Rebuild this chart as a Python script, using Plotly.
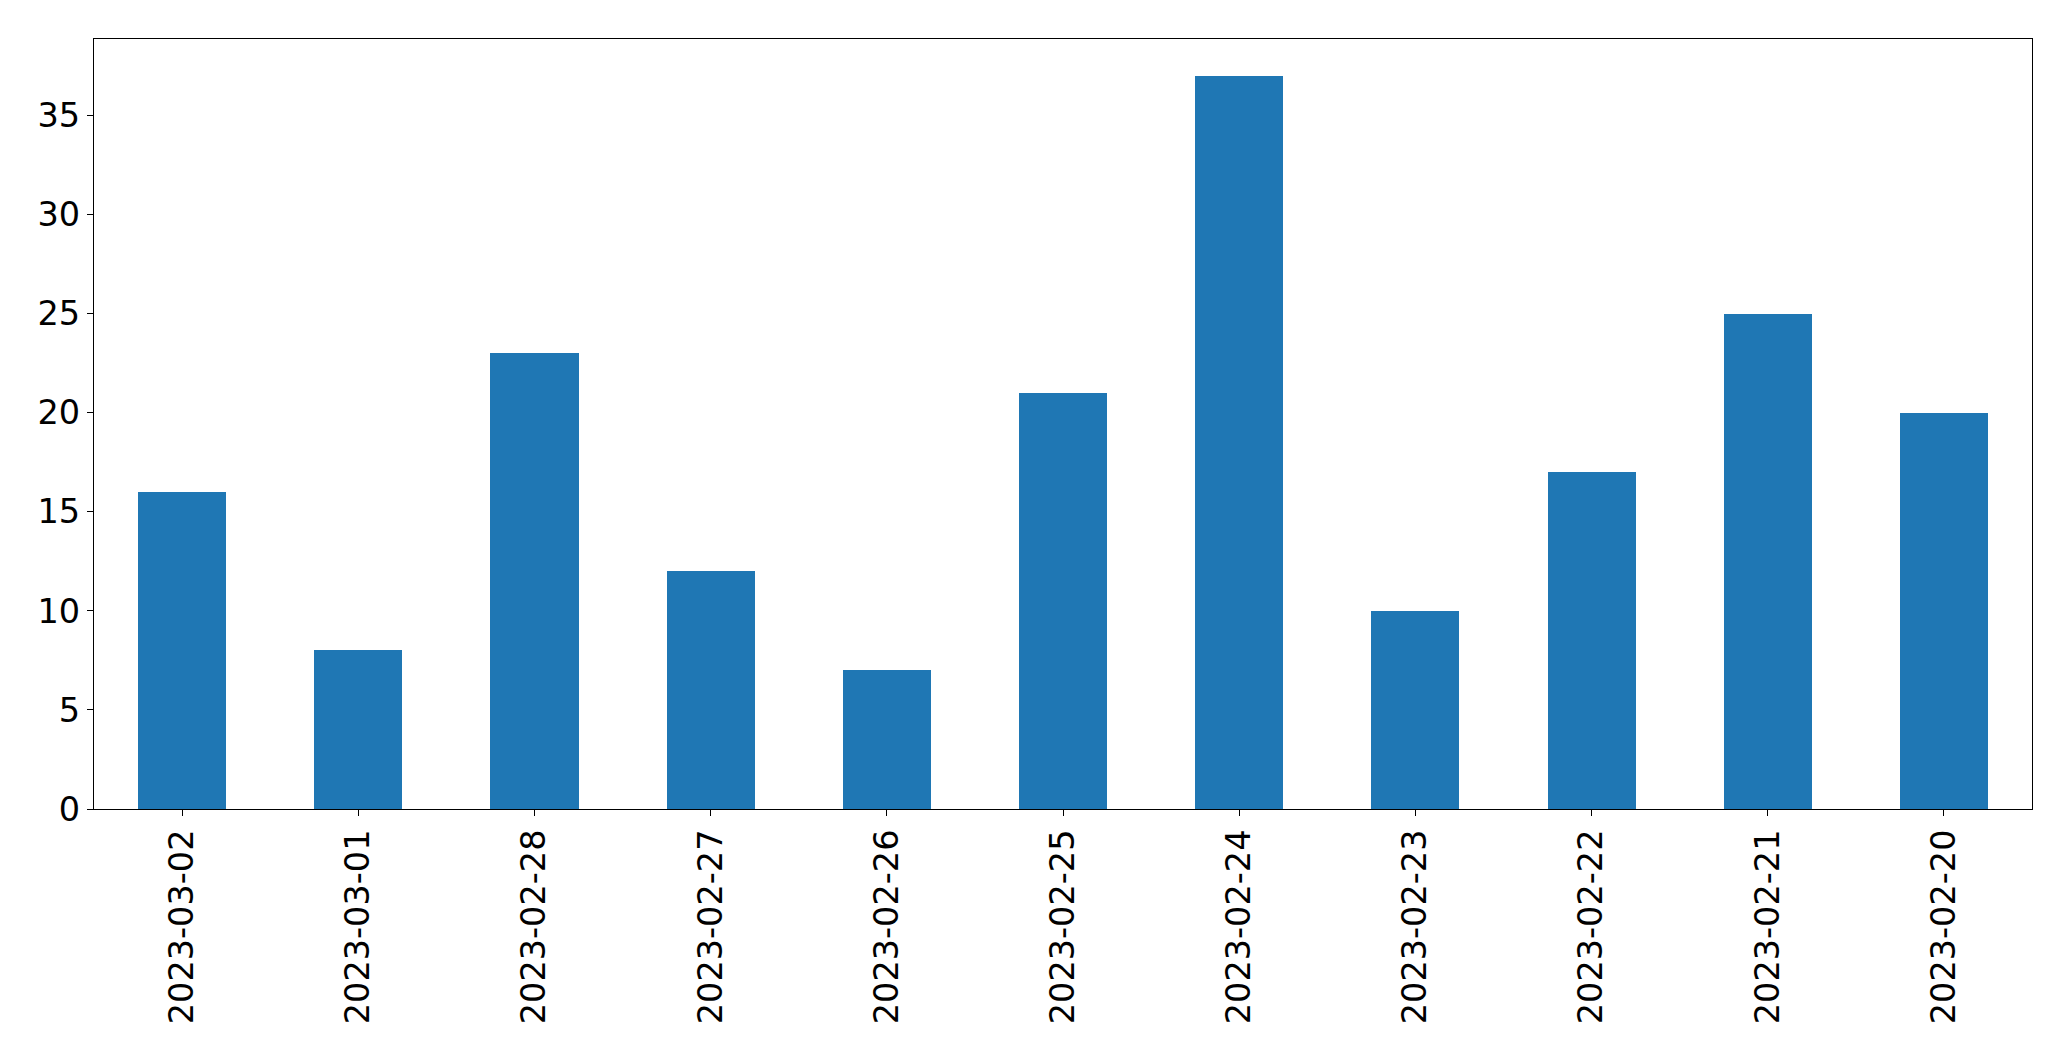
import plotly.graph_objects as go

dates = ["2023-03-02", "2023-03-01", "2023-02-28", "2023-02-27", "2023-02-26",
         "2023-02-25", "2023-02-24", "2023-02-23", "2023-02-22", "2023-02-21", "2023-02-20"]
counts = [16, 8, 23, 12, 7, 21, 37, 10, 17, 25, 20]
y_ticks = [0, 5, 10, 15, 20, 25, 30, 35]

fig = go.Figure(go.Bar(x=dates, y=counts, width=0.5, marker=dict(color="#1f77b4", line=dict(width=0))))

font = dict(family="DejaVu Sans", size=33.5, color="black")
# page body has an 8px default margin; size the figure to fit the window exactly
fig.update_layout(
    width=2055, height=1045,
    margin=dict(l=86, r=31, t=31, b=244, pad=0),
    plot_bgcolor="white", paper_bgcolor="white",
    showlegend=False,
    bargap=0,
)
fig.update_xaxes(type="category", range=[-0.5, 10.5], tickangle=-90, tickfont=font,
                 showline=True, linecolor="black", linewidth=1.3, mirror=True,
                 ticks="outside", ticklen=6, tickwidth=1.3, tickcolor="black",
                 showgrid=False, zeroline=False, automargin=False)
fig.update_yaxes(range=[0, 38.85], tickvals=y_ticks, tickfont=font,
                 showline=True, linecolor="black", linewidth=1.3, mirror=True,
                 ticks="outside", ticklen=6, tickwidth=1.3, tickcolor="black",
                 showgrid=False, zeroline=False, automargin=False)

fig.write_html("out.html")
